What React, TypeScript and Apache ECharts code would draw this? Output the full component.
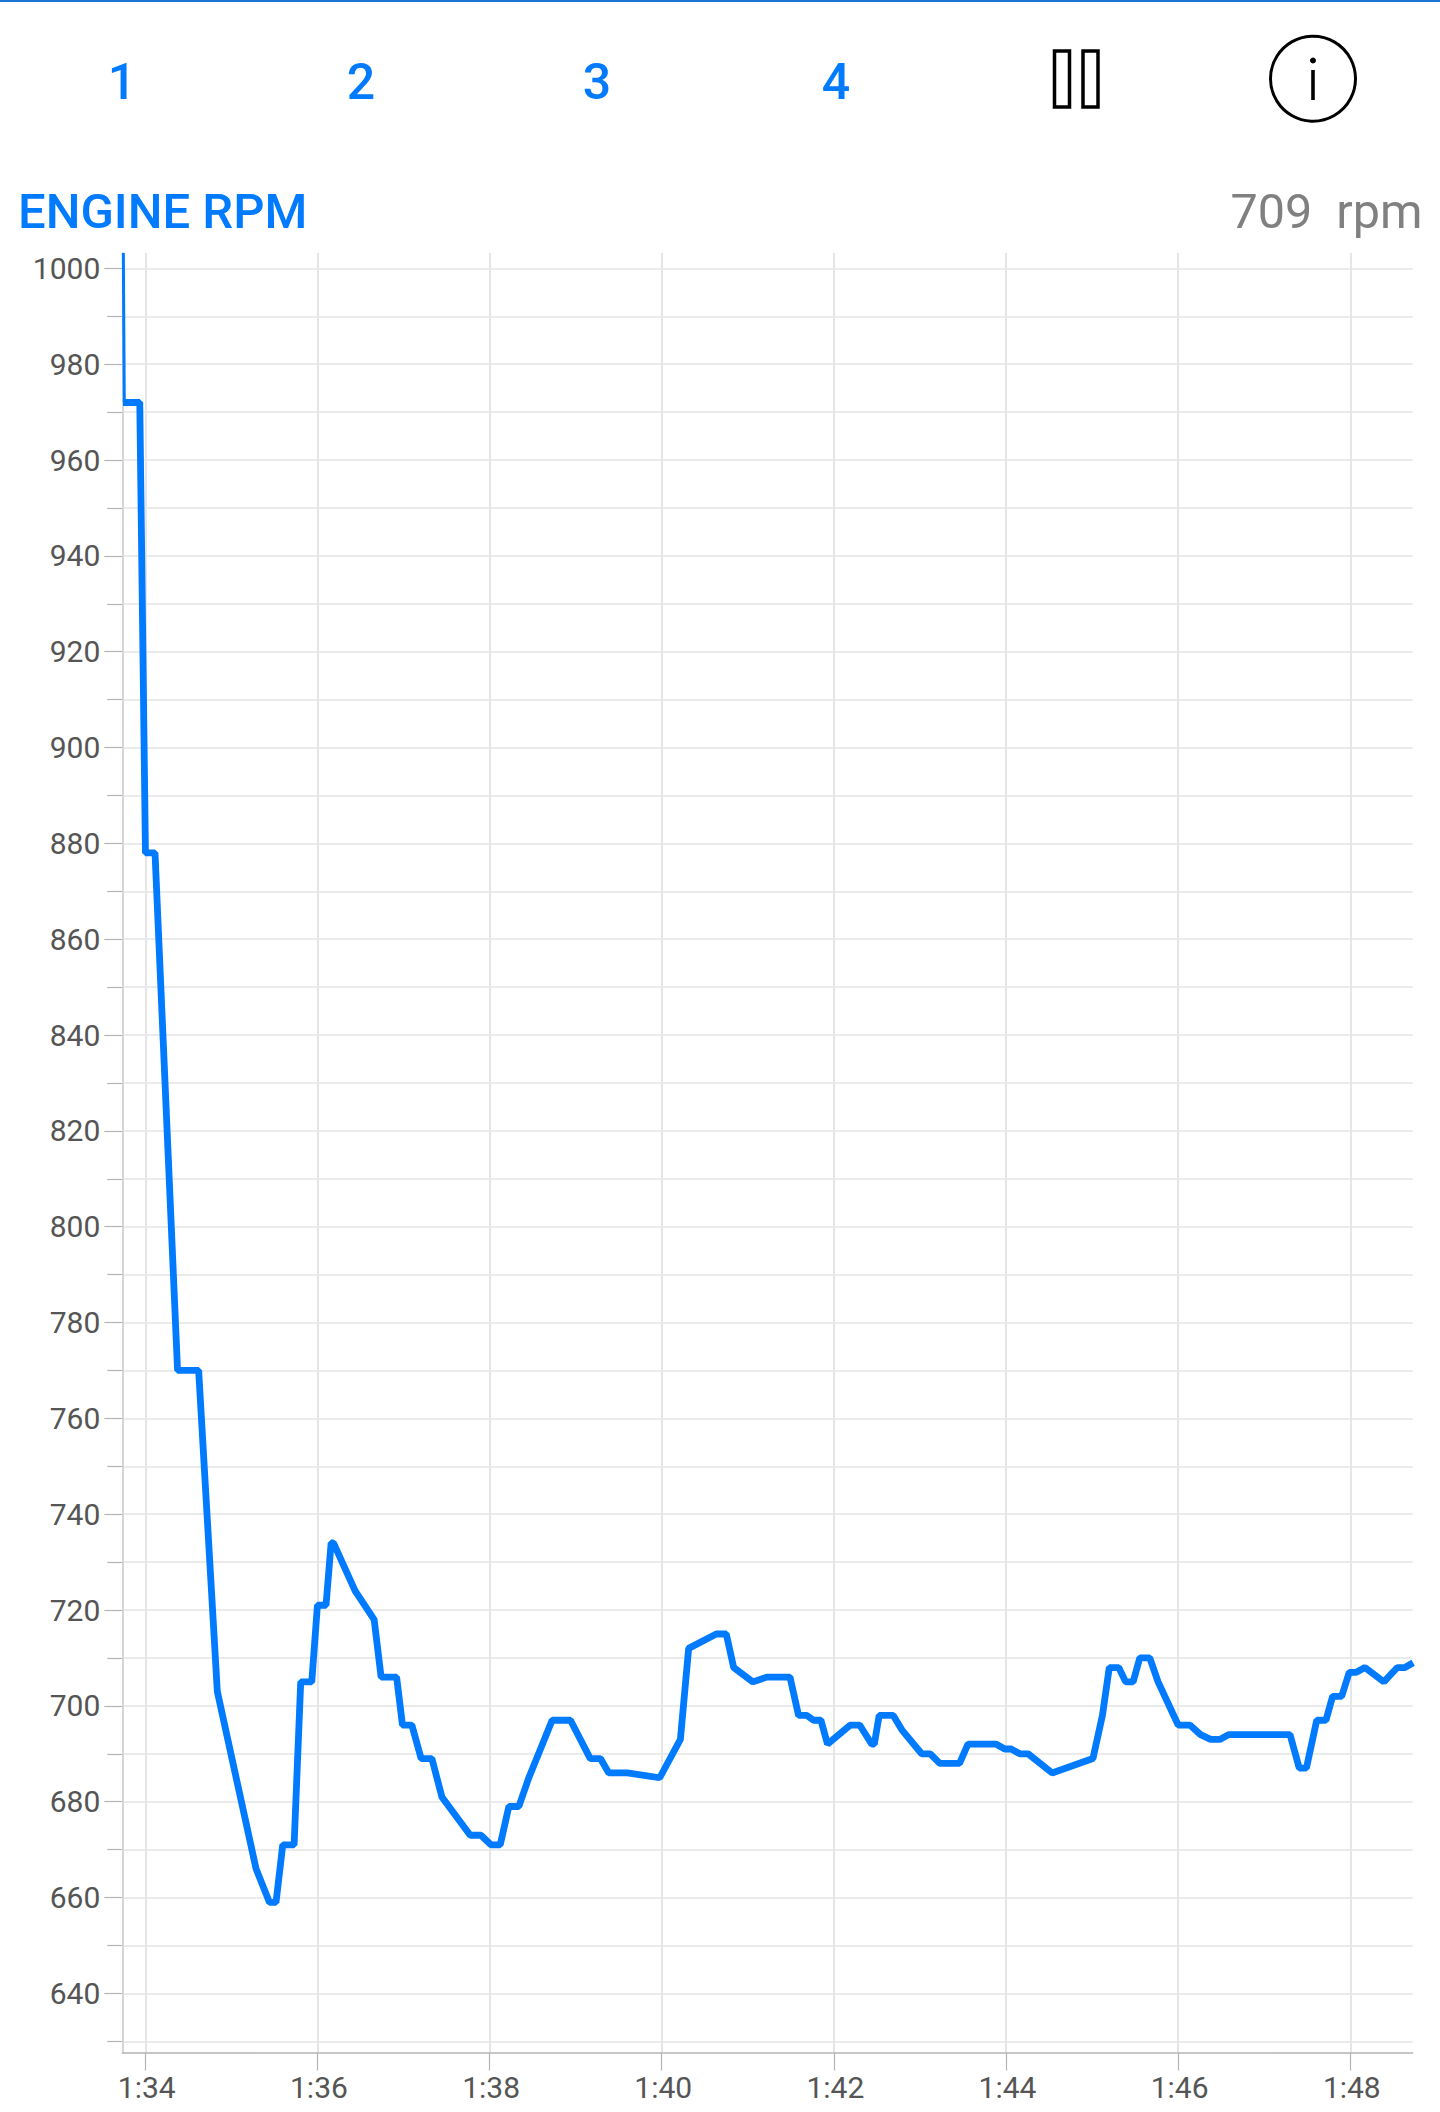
import React, { useEffect, useRef } from "react";
import * as echarts from "echarts";

const introTimes = [93.745, 93.756];
const introRpm = [1003.2, 972];
const times = [
  93.741, 93.915, 93.936, 94.002, 94.113, 94.375, 94.62, 94.837, 95.287, 95.442, 95.519, 95.597, 95.729,
  95.806, 95.934, 96.0, 96.1, 96.159, 96.186, 96.438, 96.659, 96.74, 96.92, 96.988, 97.097, 97.205, 97.33,
  97.446, 97.775, 97.9, 98.016, 98.124, 98.224, 98.34, 98.456, 98.727, 98.94, 99.17, 99.288, 99.385, 99.6,
  99.977, 100.217, 100.313, 100.634, 100.75, 100.836, 101.06, 101.22, 101.49, 101.59, 101.687, 101.764, 101.85,
  101.926, 102.19, 102.3, 102.44, 102.47, 102.526, 102.69, 102.79, 103.02, 103.12, 103.23, 103.46, 103.558,
  103.888, 103.985, 104.06, 104.16, 104.256, 104.535, 105.01, 105.12, 105.2, 105.31, 105.39, 105.477, 105.554,
  105.67, 105.767, 106.0, 106.136, 106.26, 106.376, 106.484, 106.59, 107.3, 107.407, 107.49, 107.61, 107.717,
  107.795, 107.9, 107.988, 108.07, 108.17, 108.39, 108.546, 108.635, 108.73,
];
const rpm = [
  972, 972, 972, 878, 878, 770, 770, 703, 666, 659, 659, 671, 671,
  705, 705, 721, 721, 734, 734, 724, 718, 706, 706, 696, 696, 689, 689,
  681, 673, 673, 671, 671, 679, 679, 685, 697, 697, 689, 689, 686, 686,
  685, 693, 712, 715, 715, 708, 705, 706, 706, 698, 698, 697, 697,
  692, 696, 696, 692, 692, 698, 698, 695, 690, 690, 688, 688, 692,
  692, 691, 691, 690, 690, 686, 689, 698, 708, 708, 705, 705, 710,
  710, 705, 696, 696, 694, 693, 693, 694, 694, 687, 687, 697, 697,
  702, 702, 707, 707, 708, 705, 708, 708, 709,
];
const majorRpmTicks = [640, 660, 680, 700, 720, 740, 760, 780, 800, 820, 840, 860, 880, 900, 920, 940, 960, 980, 1000];
const minorRpmTicks = [630, 650, 670, 690, 710, 730, 750, 770, 790, 810, 830, 850, 870, 890, 910, 930, 950, 970, 990];
const timeTicks = [94, 96, 98, 100, 102, 104, 106, 108];
const presetLabels = ["1", "2", "3", "4"];
const presetCenters = [122, 361, 597, 836];
const title = "ENGINE RPM";
const reading = "709  rpm";

const BLUE = "#007AFF";
const FONT = "Roboto";
const X_MIN = 93.733;
const X_MAX = 108.725;
const Y_MIN = 627.66;
const Y_MAX = 1003.2;
const GRID_LINE = "#ebebeb";
const TICK = "#b4b4b4";

const fmtTime = (m: number) => `${Math.floor(m / 60)}:${String(Math.round(m % 60)).padStart(2, "0")}`;

export default function App() {
  const ref = useRef<HTMLDivElement>(null);
  useEffect(() => {
    const chart = echarts.init(ref.current!, undefined, { renderer: "svg" });
    const yBase = {
      type: "value" as const,
      min: Y_MIN,
      max: Y_MAX,
      position: "left" as const,
      axisLine: { show: true, onZero: false, lineStyle: { color: "#d6d6d6", width: 2 } },
      splitLine: { show: true, lineStyle: { color: GRID_LINE, width: 2 } },
    };
    chart.setOption({
      animation: false,
      backgroundColor: "#ffffff",
      grid: { left: 122.3, right: 1440 - 1412.7, top: 253, bottom: 2112 - 2052.5, containLabel: false },
      xAxis: {
        type: "value",
        min: X_MIN,
        max: X_MAX,
        axisLine: { show: true, onZero: false, lineStyle: { color: "#b4b4b4", width: 1.5 } },
        axisTick: { show: true, length: 18, customValues: timeTicks, lineStyle: { color: TICK, width: 1.2 } },
        axisLabel: {
          show: true,
          customValues: timeTicks,
          formatter: (v: number) => fmtTime(v),
          fontFamily: FONT,
          fontSize: 30,
          color: "#555555",
          margin: 20,
          padding: [0, 0, 0, 3],
        },
        splitLine: { show: true, lineStyle: { color: "#e6e6e6", width: 2 } },
      },
      yAxis: [
        {
          ...yBase,
          axisTick: { show: true, length: 18, customValues: majorRpmTicks, lineStyle: { color: TICK, width: 1.2 } },
          axisLabel: {
            show: true,
            customValues: majorRpmTicks,
            formatter: (v: number) => String(v),
            fontFamily: FONT,
            fontSize: 30,
            color: "#555555",
            margin: 22,
          },
        },
        {
          ...yBase,
          axisTick: { show: true, length: 15, customValues: minorRpmTicks, lineStyle: { color: TICK, width: 1.2 } },
          axisLabel: { show: false },
        },
      ],
      series: [
        {
          type: "line",
          data: introTimes.map((t, i) => [t, introRpm[i]]),
          showSymbol: false,
          symbol: "none",
          lineStyle: { color: BLUE, width: 3, cap: "butt" },
        },
        {
          type: "line",
          data: times.map((t, i) => [t, rpm[i]]),
          showSymbol: false,
          symbol: "none",
          clip: true,
          smooth: false,
          lineStyle: { color: BLUE, width: 6.8, join: "bevel", cap: "butt" },
        },
      ],
      graphic: [
        { type: "rect", x: 0, y: 0, shape: { x: 0, y: 0, width: 1440, height: 2 }, style: { fill: "#1976D2" } },
        ...presetLabels.map((label, i) => ({
          type: "text",
          x: presetCenters[i],
          y: 107,
          style: {
            text: label,
            fontFamily: FONT,
            fontSize: 50,
            fontWeight: 500,
            fill: BLUE,
            textAlign: "center",
            textVerticalAlign: "bottom",
          },
        })),
        { type: "rect", shape: { x: 1054.5, y: 51, width: 15, height: 56 }, style: { fill: "none", stroke: "#000", lineWidth: 3.5 } },
        { type: "rect", shape: { x: 1083, y: 51, width: 15, height: 56 }, style: { fill: "none", stroke: "#000", lineWidth: 3.5 } },
        { type: "circle", shape: { cx: 1313, cy: 78.7, r: 42.5 }, style: { fill: "none", stroke: "#000", lineWidth: 3 } },
        { type: "circle", shape: { cx: 1313, cy: 60.5, r: 3 }, style: { fill: "#000" } },
        { type: "rect", shape: { x: 1311.2, y: 70, width: 3.6, height: 30 }, style: { fill: "#000" } },
        {
          type: "text",
          x: 18,
          y: 236,
          style: { text: title, fontFamily: FONT, fontSize: 49, fontWeight: 500, fill: BLUE, textAlign: "left", textVerticalAlign: "bottom" },
        },
        {
          type: "text",
          x: 1422.5,
          y: 236,
          style: { text: reading, fontFamily: FONT, fontSize: 48.5, fill: "#808080", textAlign: "right", textVerticalAlign: "bottom" },
        },
      ],
    });
    return () => chart.dispose();
  }, []);
  return <div ref={ref} style={{ position: "absolute", left: 0, top: 0, width: 1440, height: 2112 }} />;
}
